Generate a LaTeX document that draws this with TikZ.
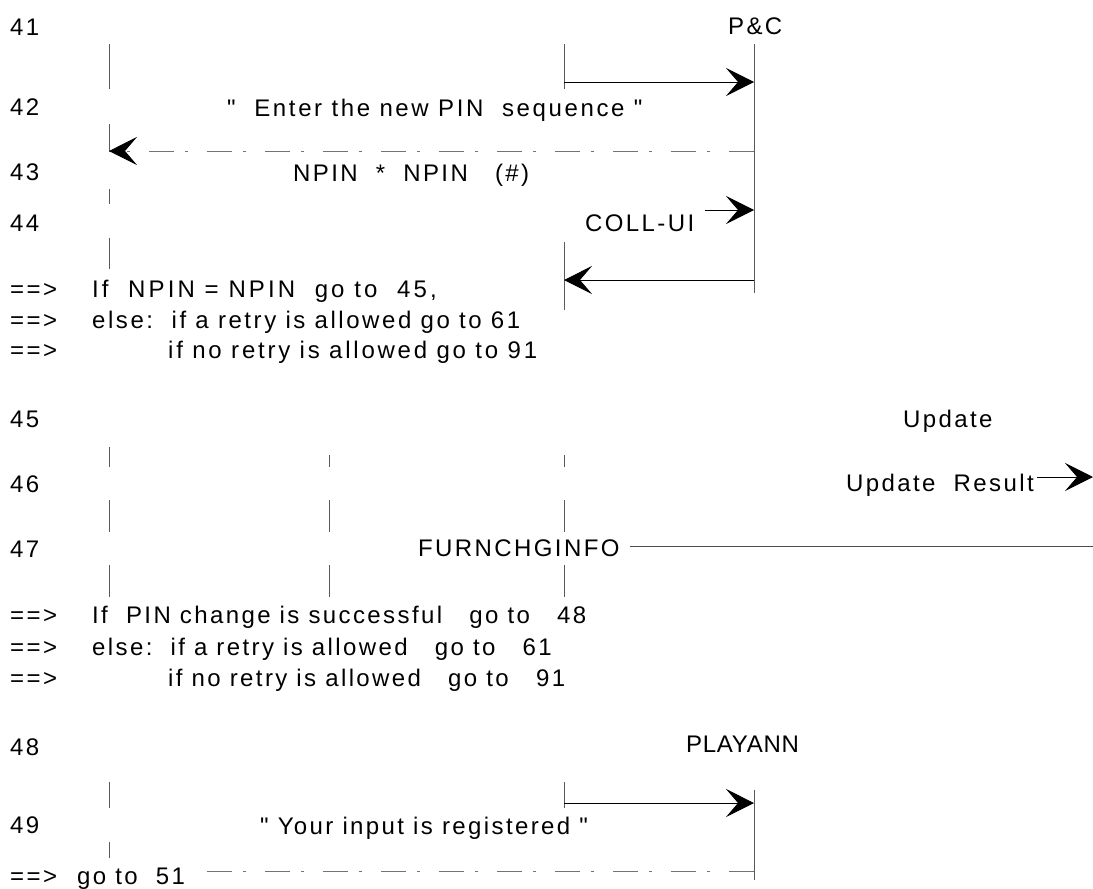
\documentclass[tikz,border=0pt]{standalone}
\usepackage{fontspec}
\setmainfont{Liberation Sans}[LetterSpace=10]
\newfontfamily\wideA{Liberation Sans}[LetterSpace=11]
\newfontfamily\wideAA{Liberation Sans}[LetterSpace=10.7]
\newfontfamily\wideB{Liberation Sans}[LetterSpace=11.5]
\newfontfamily\wideC{Liberation Sans}[LetterSpace=13]
\newfontfamily\tight{Liberation Sans}[LetterSpace=3]
\newcommand{\qq}{\XeTeXglyph\XeTeXcharglyph"22\relax}
\usetikzlibrary{arrows.meta}
\begin{document}
\begin{tikzpicture}[x=1pt,y=-1pt,
  font=\fontsize{24}{28}\selectfont,
  txt/.style={anchor=base west,inner sep=0pt},
  life/.style={line width=1pt,draw=black!65},
  msg/.style={line width=0.9pt,draw=black,-{Stealth[length=28pt,width=28pt,inset=12pt]}},
  plainmsg/.style={line width=0.9pt,draw=black!70},
  dmsg/.style={line width=0.9pt,draw=black!55,dash pattern=on 25pt off 19pt on 3pt off 11pt},
  dmsgarrow/.style={dmsg,-{Stealth[length=28pt,width=28pt,inset=12pt,black]}},
]
\useasboundingbox (0,0) rectangle (1093,889);

% ---------- row labels ----------
\node[txt] (n41) at (10,35) {41};
\node[txt] (n42) at (10,115) {42};
\node[txt] (n43) at (10,180) {43};
\node[txt] (n44) at (10,231) {44};
\node[txt] (a1) at (10,297) {==>};
\node[txt] (a2) at (10,328) {==>};
\node[txt] (a3) at (10,358) {==>};
\node[txt] (n45) at (10,427) {45};
\node[txt] (n46) at (10,492) {46};
\node[txt] (n47) at (10,557) {47};
\node[txt] (b1) at (10,623) {==>};
\node[txt] (b2) at (10,655) {==>};
\node[txt] (b3) at (10,686) {==>};
\node[txt] (n48) at (10,755) {48};
\node[txt] (n49) at (10,833) {49};
\node[txt] (c1) at (10,884) {==>};

% ---------- texts ----------
\node[txt] (pc) at (728,34) {P\&C};
\node[txt] (enter) at (227,116) {\wideA\qq\ \ Enter the new PIN\ \ sequence \qq};
\node[txt] (npin) at (293,181) {NPIN\ \ *\ \ NPIN\ \ \ (\#)};
\node[txt] (coll) at (585,231) {COLL-UI};
\node[txt] (t1) at (92,297) {\wideC If\ \ NPIN = NPIN\ \ go to\ \ 45,};
\node[txt] (t2) at (92,328) {\wideAA else:\ \ if a retry is allowed go to 61};
\node[txt] (t3) at (168,358) {\wideB if no retry is allowed go to 91};
\node[txt] (upd) at (903,427) {Update};
\node[txt] (updres) at (846,491) {Update\ \ Result};
\node[txt] (furn) at (418,556) {FURNCHGINFO};
\node[txt] (u1) at (92,623) {If\ \ PIN change is successful\ \ \ go to\ \ \ 48};
\node[txt] (u2) at (92,655) {else:\ \ if a retry is allowed\ \ \ go to\ \ \ 61};
\node[txt] (u3) at (168,686) {if no retry is allowed\ \ \ go to\ \ \ 91};
\node[txt] (play) at (686,752) {\tight PLAYANN};
\node[txt] (your) at (260,834) {\qq\ Your input is registered \qq};
\node[txt] (goto) at (77,884) {go to\ \ 51};

% ---------- lifeline segments ----------
\foreach \ya/\yb [count=\i] in {44/89,124/152,189/204,238/269,447/467,500/532,565/597,782/808,842/858}{
  \coordinate (L\i a) at (109,\ya); \coordinate (L\i b) at (109,\yb);
  \draw[life] (L\i a) -- (L\i b);
}
\foreach \ya/\yb [count=\i] in {455/467,500/532,565/597}{
  \coordinate (M\i a) at (329,\ya); \coordinate (M\i b) at (329,\yb);
  \draw[life] (M\i a) -- (M\i b);
}
\foreach \ya/\yb [count=\i] in {44/89,242/310,455/467,500/532,565/597,782/808}{
  \coordinate (R\i a) at (564,\ya); \coordinate (R\i b) at (564,\yb);
  \draw[life] (R\i a) -- (R\i b);
}
\coordinate (P1a) at (754,44);  \coordinate (P1b) at (754,293);
\coordinate (P2a) at (754,790); \coordinate (P2b) at (754,880);
\draw[life] (P1a) -- (P1b);
\draw[life] (P2a) -- (P2b);

% ---------- messages ----------
\coordinate (m1s) at (564,82);  \coordinate (m1e) at (754,82);
\draw[msg] (m1s) -- (m1e);
\coordinate (m2s) at (754,151); \coordinate (m2e) at (109,151);
\draw[dmsgarrow] (m2s) -- (m2e);
\coordinate (m3s) at (705,210); \coordinate (m3e) at (754,210);
\draw[msg] (m3s) -- (m3e);
\coordinate (m4s) at (754,280); \coordinate (m4e) at (564,280);
\draw[msg] (m4s) -- (m4e);
\coordinate (m5s) at (1037,477); \coordinate (m5e) at (1093,477);
\draw[msg] (m5s) -- (m5e);
\coordinate (m6s) at (630,546); \coordinate (m6e) at (1093,546);
\draw[plainmsg] (m6s) -- (m6e);
\coordinate (m7s) at (564,803); \coordinate (m7e) at (754,803);
\draw[msg] (m7s) -- (m7e);
\coordinate (m8s) at (754,871); \coordinate (m8e) at (193,871);
\draw[dmsg] (m8s) -- (m8e);
\end{tikzpicture}
\end{document}
